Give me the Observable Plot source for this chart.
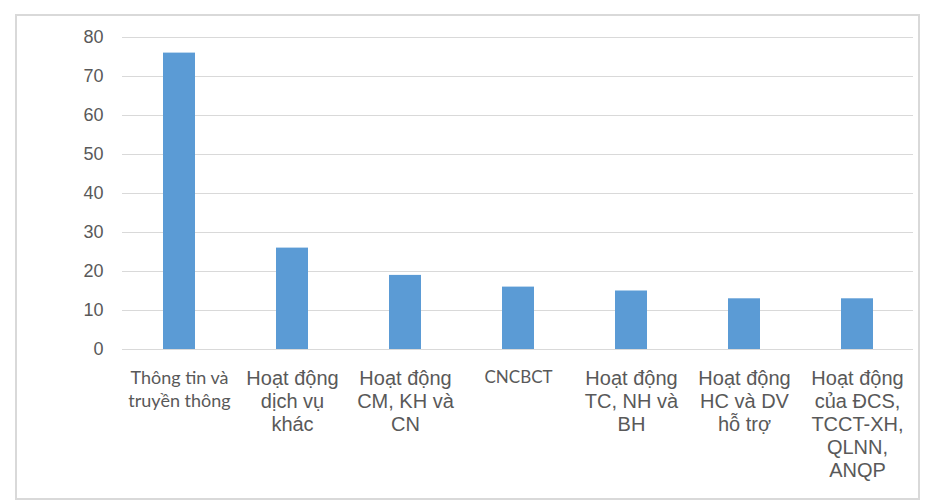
<!DOCTYPE html>
<html>
<head>
<meta charset="utf-8">
<script src="https://cdn.jsdelivr.net/npm/d3@7"></script>
<script src="https://cdn.jsdelivr.net/npm/@observablehq/plot@0.6"></script>
<style>
  html, body { margin: 0; padding: 0; background: #fff; }
  #wrap { position: relative; width: 927px; height: 504px; overflow: hidden; }
  #frame { position: absolute; left: 15px; top: 14px; width: 901px; height: 482px; border: 2px solid #d9d9d9; pointer-events: none; }
</style>
</head>
<body>
<div id="wrap"><div id="frame"></div></div>
<script>
const categories = [
  "Thông tin và\ntruyền thông",
  "Hoạt động\ndịch vụ\nkhác",
  "Hoạt động\nCM, KH và\nCN",
  "CNCBCT",
  "Hoạt động\nTC, NH và\nBH",
  "Hoạt động\nHC và DV\nhỗ trợ",
  "Hoạt động\ncủa ĐCS,\nTCCT-XH,\nQLNN,\nANQP"
];
const values = [76, 26, 19, 16, 15, 13, 13];
const yTicks = [0, 10, 20, 30, 40, 50, 60, 70, 80];
const narrowLabelA = [categories[0]];
const narrowLabelB = [categories[3]];
const arialLabels = categories.filter(c => c !== categories[0] && c !== categories[3]);

const data = categories.map((c, i) => ({category: c, value: values[i]}));

const chart = Plot.plot({
  width: 927,
  height: 504,
  marginLeft: 122,
  marginRight: 14,
  marginTop: 37,
  marginBottom: 155,
  style: {background: "transparent", color: "#595959"},
  x: {domain: categories, paddingInner: 0.717, paddingOuter: 0.3585, axis: null},
  y: {domain: [0, 80], axis: null},
  marks: [
    Plot.gridY(yTicks, {stroke: "#d9d9d9", strokeOpacity: 1, strokeWidth: 1}),
    Plot.barY(data, {x: "category", y: "value", fill: "#5b9bd5"}),
    Plot.axisY(yTicks, {label: null, tickSize: 0, tickPadding: 19, fontSize: 18, fontFamily: "Liberation Sans, Arial, sans-serif", fill: "#595959"}),
    Plot.axisX(arialLabels, {label: null, tickSize: 0, tickPadding: 19, fontSize: 20, fontFamily: "Liberation Sans, Arial, sans-serif", lineHeight: 1.15, fill: "#595959", textAnchor: "middle"}),
    Plot.axisX(narrowLabelA, {label: null, tickSize: 0, tickPadding: 18, fontSize: 18, fontFamily: "Lato, sans-serif", lineHeight: 1.28, fill: "#595959", textAnchor: "middle"}),
    Plot.axisX(narrowLabelB, {label: null, tickSize: 0, tickPadding: 21, fontSize: 17, fontFamily: "Lato, sans-serif", fill: "#595959", textAnchor: "middle"})
  ]
});
document.getElementById("wrap").prepend(chart);
</script>
</body>
</html>
